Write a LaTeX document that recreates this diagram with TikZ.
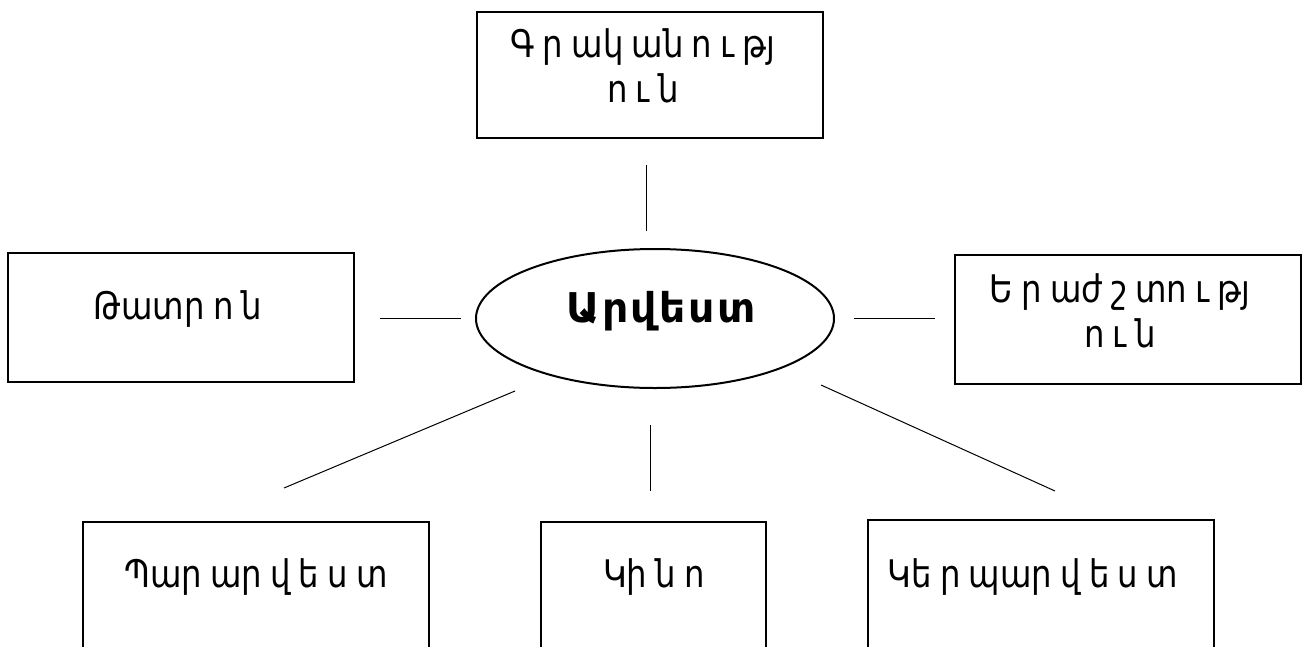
\documentclass[tikz,border=0pt]{standalone}
\usepackage{fontspec}
\setmainfont{DejaVu Sans}
\newfontfamily\armfont{DejaVu Sans}[FakeStretch=0.85, WordSpace=0.8]
\newfontfamily\armbold{DejaVu Sans Bold}[LetterSpace=6]
\usetikzlibrary{shapes.geometric}
\begin{document}
\begin{tikzpicture}[x=1pt,y=-1pt,
  box/.style={draw, line width=2pt, rectangle, inner sep=0pt, minimum width=346pt},
  oval/.style={draw, line width=2pt, ellipse, inner sep=0pt},
  lbl/.style={font=\armfont\fontsize{38}{45}\selectfont, align=center, inner sep=0pt, anchor=base},
  bigl/.style={font=\armbold\fontsize{41}{45}\selectfont, inner sep=0pt, anchor=base},
  link/.style={line width=1pt}]
\clip (0,0) rectangle (1304,646);
\fill[white] (0,0) rectangle (1304,646);
% central ellipse
\node[oval, minimum width=358pt, minimum height=139pt] (art) at (655,318.5) {};
\node[bigl] (artt) at (661,322) {Արվեստ};
% boxes (multi-line labels: base = baseline of the last line)
\node[box, minimum height=126pt] (lit) at (650,75) {};
\node[lbl] (litt) at (643,102) {Գ ր ակ ան ո ւ թյ\\ո ւ ն};
\node[box, minimum height=129pt] (thea) at (181,317.5) {};
\node[lbl] (theat) at (178,319) {Թատր ո ն};
\node[box, minimum height=129pt] (mus) at (1127.5,319.5) {};
\node[lbl] (must) at (1120,347) {Ե ր աժ շ տո ւ թյ\\ո ւ ն};
\node[box, minimum height=200pt] (dance) at (256,622) {};
\node[lbl] (dancet) at (256,587) {Պար ար վ ե ս տ};
\node[box, minimum width=225pt, minimum height=200pt] (cine) at (653.5,622) {};
\node[lbl] (cinet) at (654,587) {Կի ն ո};
\node[box, minimum height=200pt] (fine) at (1041,620) {};
\node[lbl] (finet) at (1033,587) {Կե ր պար վ ե ս տ};
% connectors
\coordinate (dta) at (646,231);
\coordinate (dtb) at (646,165);
\draw[link] (dta) -- (dtb);
\draw[link, shorten <=14pt, shorten >=25pt] (art.west) -- (thea.east |- art.west);
\draw[link, shorten <=19pt, shorten >=19pt] (art.east) -- (mus.west |- art.east);
\coordinate (dla) at (515,391);
\coordinate (dlb) at (284,488);
\coordinate (dma) at (650,425);
\coordinate (dmb) at (650,491);
\coordinate (dra) at (821,385);
\coordinate (drb) at (1055,491);
\draw[link] (dla) -- (dlb);
\draw[link] (dma) -- (dmb);
\draw[link] (dra) -- (drb);
\end{tikzpicture}
\end{document}
